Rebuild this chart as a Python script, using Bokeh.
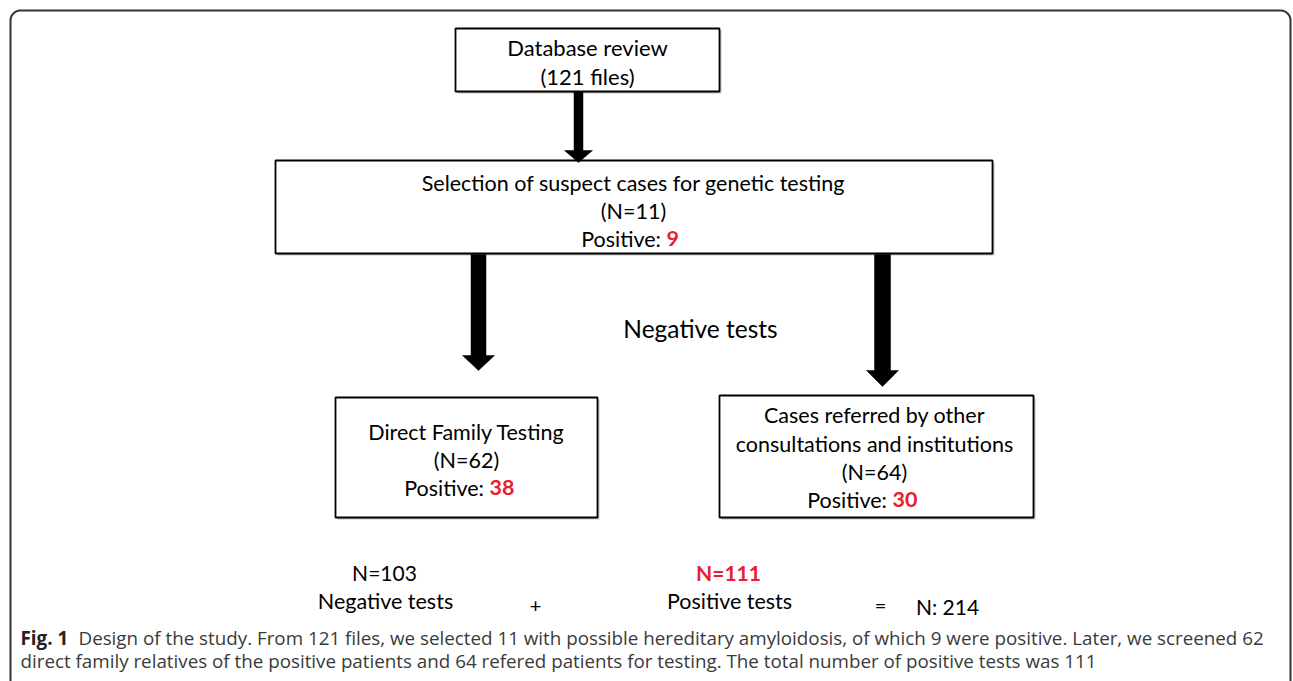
import numpy as np
from bokeh.plotting import figure
from bokeh.models import Range1d
from bokeh.core.properties import value
from bokeh.embed import file_html
from bokeh.resources import INLINE

# ---------------- data ----------------
files_reviewed = [121]
stage_titles = ["Database review",
                "Selection of suspect cases for genetic testing",
                "Direct Family Testing",
                "Cases referred by other",
                "consultations and institutions"]
n_tested = [11, 62, 64]          # selection, family, referred
n_positive = [9, 38, 30]
total_negative = [103]
total_positive = [111]
total_tests = [214]
middle_label = ["Negative tests"]
bottom_labels = ["Negative tests", "Positive tests"]

RED = "#e8202a"
FONT = "Lato"
CAP_FONT = "Open Sans"
BS = 21.5  # box text size
W, H = 1293, 681

p = figure(width=W, height=H, output_backend="svg", toolbar_location=None,
           x_range=Range1d(0, W), y_range=Range1d(H, 0),
           x_axis_location=None, y_axis_location=None, min_border=0,
           outline_line_color=None, background_fill_color="white",
           border_fill_color="white")
p.grid.visible = False

# outer rounded frame
r = 10
L, R, T, B = 10, 1290, 10, 720
a1 = np.linspace(np.pi, 1.5 * np.pi, 12)
a2 = np.linspace(1.5 * np.pi, 2 * np.pi, 12)
fx = np.concatenate([[L], L + r + r * np.cos(a1), R - r + r * np.cos(a2), [R]])
fy = np.concatenate([[B], T + r + r * np.sin(a1), T + r + r * np.sin(a2), [B]])
p.line(fx, fy, line_color="#333333", line_width=2)


def box(l, rr, t, b):
    p.quad(left=[l + 2], right=[rr + 2], top=[t + 2], bottom=[b + 2],
           fill_color="#9a9a9a", line_color=None, fill_alpha=0.6)
    p.quad(left=[l], right=[rr], top=[t], bottom=[b],
           fill_color="white", line_color="black", line_width=1.8)


def arrow(x, y0, y1, w, hw, hl):
    ys = y1 - hl
    xs = [x - w / 2, x + w / 2, x + w / 2, x + hw / 2, x, x - hw / 2, x - w / 2]
    yy = [y0, y0, ys, ys, y1, ys, ys]
    p.patch(xs, yy, fill_color="black", line_color="black", line_width=0.5)


def txt(x, y, s, size, color="black", bold=False, align="center", font=FONT):
    p.text(x=[x], y=[y], text=[s], text_font=value(font),
           text_font_size=f"{size}px", text_color=color,
           text_font_style="bold" if bold else "normal",
           text_align=align, text_baseline="middle")


def positive(split, y, n, size=BS):
    txt(split, y, "Positive: ", size, align="right")
    txt(split, y, str(n), size, color=RED, bold=True, align="left")


# boxes
box(455, 719, 28, 91)
box(275, 992, 160, 253)
box(335, 597, 397, 517)
box(719, 1033, 395, 517)

# arrows
arrow(578, 91, 162, 9, 28, 12)
arrow(478, 254, 370, 15, 32, 15)
arrow(882, 254, 386, 16, 32, 16)

# box 1
txt(587, 47, stage_titles[0], 22)
txt(587, 76, f"({files_reviewed[0]} files)", 22)

# box 2
txt(633, 182, stage_titles[1], BS)
txt(633, 210, f"(N={n_tested[0]})", BS)
positive(666, 238, n_positive[0])

# box 3
txt(466, 431, stage_titles[2], BS)
txt(466, 459, f"(N={n_tested[1]})", BS)
positive(489, 487, n_positive[1])

# box 4
txt(874, 414, stage_titles[3], BS)
txt(874, 443, stage_titles[4], BS)
txt(874, 471, f"(N={n_tested[2]})", BS)
positive(892, 499, n_positive[2])

# middle label
txt(700, 328, middle_label[0], 24.5)

# bottom summary
txt(384, 572, f"N={total_negative[0]}", 21)
txt(385, 600, bottom_labels[0], 21.5)
txt(535, 605, "+", 20)
txt(728, 572, f"N={total_positive[0]}", 21, color=RED, bold=True)
txt(729, 600, bottom_labels[1], 21.5)
txt(880, 604, "=", 20)
txt(947, 606, f"N: {total_tests[0]}", 21)

# caption
cap1 = (f" Design of the study. From {files_reviewed[0]} files, we selected {n_tested[0]} with possible "
        f"hereditary amyloidosis, of which {n_positive[0]} were positive. Later, we screened {n_tested[1]}")
cap2 = (f"direct family relatives of the positive patients and {n_tested[2]} refered patients for testing. "
        f"The total number of positive tests was {total_positive[0]}")
txt(20, 637, "Fig. 1", 18.8, color="#222222", bold=True, align="left", font=CAP_FONT)
txt(78, 637, cap1, 18.8, color="#3a3a3a", align="left", font=CAP_FONT)
txt(20, 660, cap2, 18.8, color="#3a3a3a", align="left", font=CAP_FONT)

open("out.html", "w").write(file_html(p, INLINE))
